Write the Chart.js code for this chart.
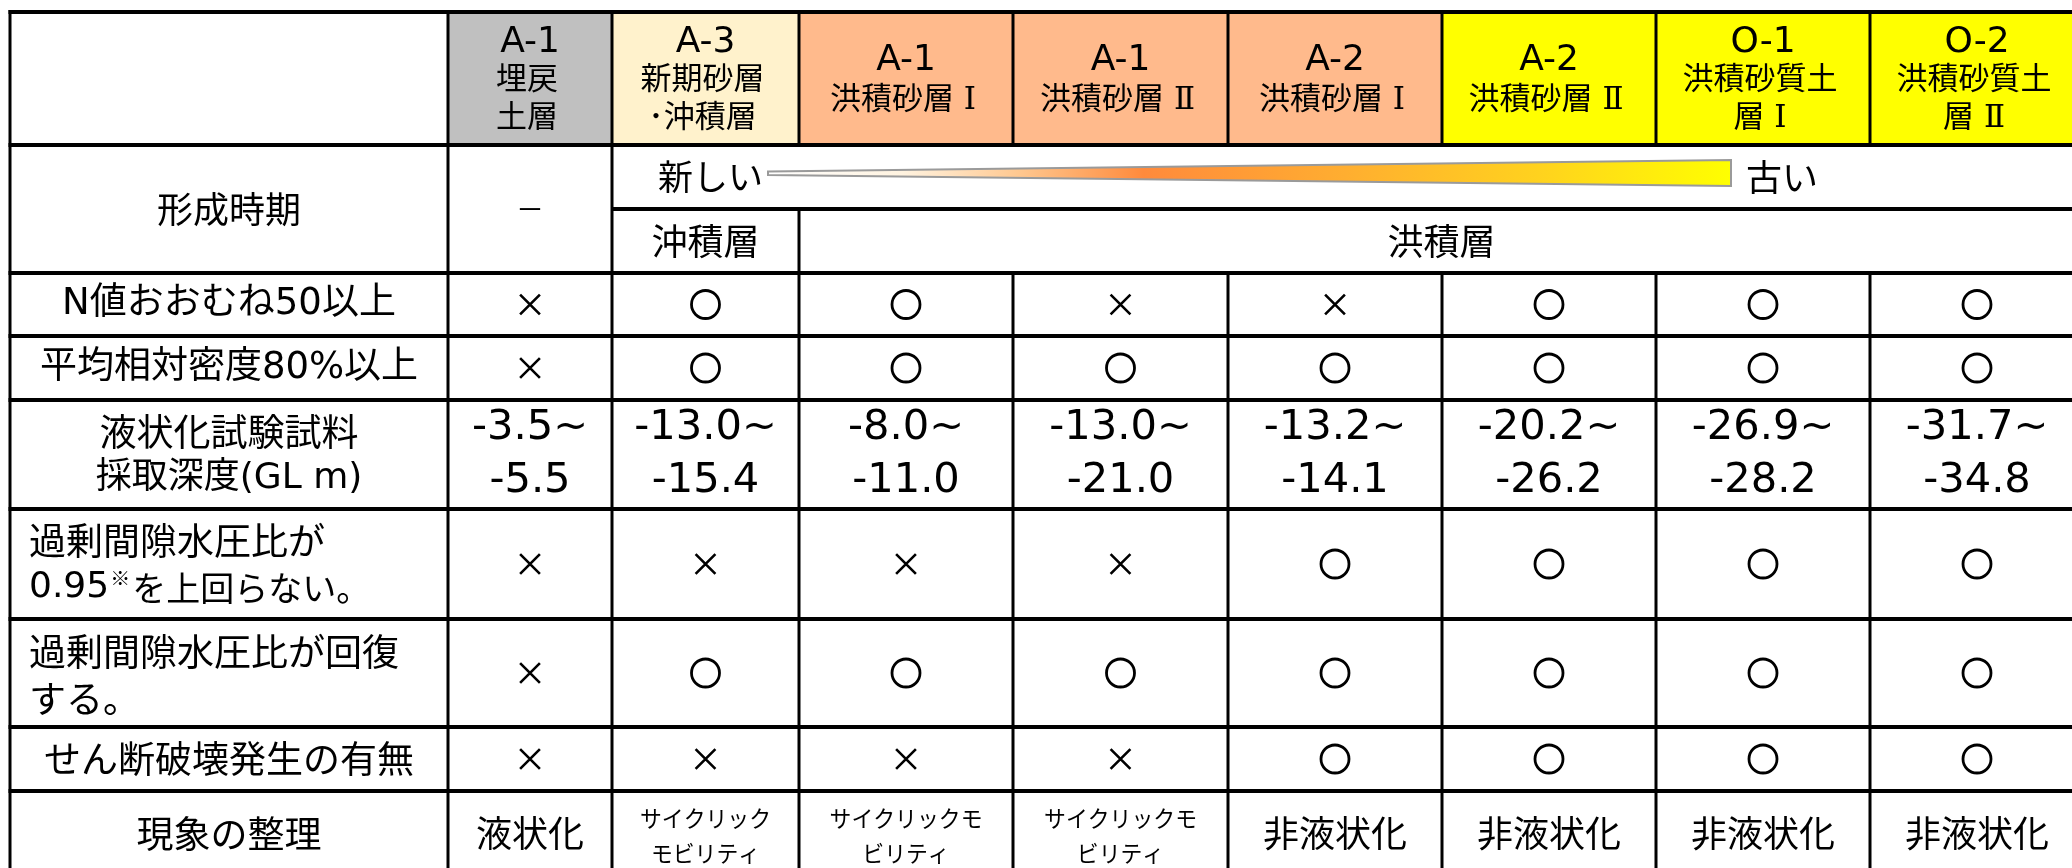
<!DOCTYPE html>
<html><head><meta charset="utf-8">
<script src="https://cdn.jsdelivr.net/npm/chart.js@4.4.1/dist/chart.umd.min.js"></script>
<style>html,body{margin:0;padding:0;background:#fff;overflow:hidden}canvas{display:block}</style>
</head><body>
<canvas id="c" width="2072" height="868"></canvas>
<script>
// ---- data ----
const layerCodes = ['A-1','A-3','A-1','A-1','A-2','A-2','O-1','O-2'];
const layerNames = [['埋戻','土層'],['新期砂層','･沖積層'],['洪積砂層Ⅰ'],['洪積砂層Ⅱ'],['洪積砂層Ⅰ'],['洪積砂層Ⅱ'],['洪積砂質土','層Ⅰ'],['洪積砂質土','層Ⅱ']];
const rowLabels = [['形成時期'],['N値おおむね50以上'],['平均相対密度80%以上'],['液状化試験試料','採取深度(GL m)'],['過剰間隙水圧比が','0.95','※','を上回らない。'],['過剰間隙水圧比が回復','する。'],['せん断破壊発生の有無'],['現象の整理']];
const eraNone = '－';
const eraNew = '新しい';
const eraOld = '古い';
const eraGroups = ['沖積層','洪積層'];
// 1 = ○, 0 = ×
const nValue50 = [0,1,1,0,0,1,1,1];
const density80 = [0,1,1,1,1,1,1,1];
const depthTop = [-3.5,-13.0,-8.0,-13.0,-13.2,-20.2,-26.9,-31.7];
const depthBottom = [-5.5,-15.4,-11.0,-21.0,-14.1,-26.2,-28.2,-34.8];
const poreBelow095 = [0,0,0,0,1,1,1,1];
const poreRecovery = [0,1,1,1,1,1,1,1];
const shearFailure = [0,0,0,0,1,1,1,1];
const phenomenon = [['液状化'],['サイクリック','モビリティ'],['サイクリックモ','ビリティ'],['サイクリックモ','ビリティ'],['非液状化'],['非液状化'],['非液状化'],['非液状化']];

// ---- layout (axis units) ----
const colEdges = [10,448,612,799,1013,1228,1442,1656,1870,2084];
const rowEdges = [12,145,209,273,336,400,509,619,727,791,872];
const headerFill = ['#c0c0c0','#fff2cc','#ffba8c','#ffba8c','#ffba8c','#ffff00','#ffff00','#ffff00'];
const JP = "'Noto Sans CJK JP'";
const MIX = "'DejaVu Sans','Noto Sans CJK JP'";
const HDR = "'DejaVu Serif','Noto Sans CJK JP'";

const colCenter = c => (colEdges[c+1] + colEdges[c+2]) / 2;
const rowCenter = r => (rowEdges[r] + rowEdges[r+1]) / 2;

const markRows = [[3,nValue50],[4,density80],[6,poreBelow095],[7,poreRecovery],[8,shearFailure]];
const okPts = [], ngPts = [];
markRows.forEach(([r, arr]) => arr.forEach((v, c) => {
  (v ? okPts : ngPts).push({x: colCenter(c), y: rowCenter(r)});
}));

const tablePlugin = {
  id: 'tableDraw',
  beforeDatasetsDraw(chart) {
    const ctx = chart.ctx, sx = chart.scales.x, sy = chart.scales.y;
    const X = v => sx.getPixelForValue(v), Y = v => sy.getPixelForValue(v);
    ctx.save();
    headerFill.forEach((f, c) => {
      ctx.fillStyle = f;
      ctx.fillRect(X(colEdges[c+1]), Y(rowEdges[0]), X(colEdges[c+2]) - X(colEdges[c+1]), Y(rowEdges[1]) - Y(rowEdges[0]));
    });
    // gradient wedge
    const gx0 = X(768), gx1 = X(1731);
    const g = ctx.createLinearGradient(gx0, 0, gx1, 0);
    g.addColorStop(0, '#ffffff');
    g.addColorStop(0.14, '#fff3e0');
    g.addColorStop(0.26, '#ffc890');
    g.addColorStop(0.39, '#ff8a3c');
    g.addColorStop(0.6, '#ffae30');
    g.addColorStop(0.8, '#ffd21e');
    g.addColorStop(1, '#ffff00');
    ctx.beginPath();
    ctx.moveTo(gx0, Y(171.5)); ctx.lineTo(gx1, Y(160)); ctx.lineTo(gx1, Y(186)); ctx.lineTo(gx0, Y(175)); ctx.closePath();
    ctx.fillStyle = g; ctx.fill();
    ctx.strokeStyle = '#9a9a9a'; ctx.lineWidth = 2; ctx.stroke();

    const text = (s, x, y, font, align, stretch) => {
      ctx.save();
      ctx.font = font; ctx.textAlign = align || 'center'; ctx.textBaseline = 'middle';
      ctx.fillStyle = '#000';
      ctx.translate(X(x), Y(y)); ctx.scale(stretch || 1, 1);
      ctx.fillText(s, 0, 0);
      const w = ctx.measureText(s).width * (stretch || 1);
      ctx.restore();
      return w;
    };
    // header
    layerCodes.forEach((code, c) => {
      const lines = [code].concat(layerNames[c]);
      const ys = lines.length === 3 ? [43, 81, 119] : [61, 101];
      lines.forEach((s, i) => {
        if (i === 0) text(s, colCenter(c), ys[i], "36px " + MIX);
        else text(s.replace(/([ⅠⅡ])/, ' $1'), colCenter(c) - 3, ys[i], "31px " + HDR);
      });
    });
    // row labels
    const labelX = (colEdges[0] + colEdges[1]) / 2;
    const LF = "37px ";
    text(rowLabels[0][0], labelX, rowCenter(1) + 32, "36px " + JP);
    text(rowLabels[1][0], labelX, rowCenter(3), LF + MIX);
    text(rowLabels[2][0], labelX, rowCenter(4), LF + MIX);
    text(rowLabels[3][0], labelX, rowCenter(5) - 23, LF + JP);
    text(rowLabels[3][1], labelX, rowCenter(5) + 24, "36px " + MIX);
    text(rowLabels[4][0], 29, rowCenter(6) - 23, LF + JP, 'left');
    let w = text(rowLabels[4][1], 29, rowCenter(6) + 24, "36px " + MIX, 'left');
    let w2 = text(rowLabels[4][2], 29 + w + 1, rowCenter(6) + 14, "20px " + JP, 'left');
    text(rowLabels[4][3], 29 + w + w2 + 3, rowCenter(6) + 24, "34px " + JP, 'left');
    text(rowLabels[5][0], 29, rowCenter(7) - 21, LF + JP, 'left');
    text(rowLabels[5][1], 29, rowCenter(7) + 26, LF + JP, 'left');
    text(rowLabels[6][0], labelX, rowCenter(8), LF + JP);
    text(rowLabels[7][0], labelX, rowCenter(9) + 2, LF + JP);
    // formation era
    text(eraNone, colCenter(0), rowEdges[2], "28px " + JP);
    text(eraNew, 658, rowCenter(1), "35px " + JP, 'left');
    text(eraOld, 1746, rowCenter(1), "36px " + JP, 'left');
    text(eraGroups[0], colCenter(1), rowCenter(2), "36px " + JP);
    text(eraGroups[1], (colEdges[3] + colEdges[9]) / 2, rowCenter(2), "36px " + JP);
    // depths
    depthTop.forEach((v, c) => {
      text(v.toFixed(1) + '~', colCenter(c), rowCenter(5) - 26, "40px " + MIX, 'center', 1.04);
      text(depthBottom[c].toFixed(1), colCenter(c), rowCenter(5) + 27, "40px " + MIX, 'center', 1.04);
    });
    // phenomenon
    phenomenon.forEach((lines, c) => {
      if (lines.length === 1) text(lines[0], colCenter(c), rowCenter(9) + 2, "36px " + JP);
      else { text(lines[0], colCenter(c), rowCenter(9) - 13, "23px " + JP, 'center', 0.95); text(lines[1], colCenter(c), rowCenter(9) + 22, "23px " + JP, 'center', 0.95); }
    });

    // grid lines
    ctx.strokeStyle = '#000';
    ctx.lineCap = 'butt';
    const hline = (y, x0, x1) => { ctx.lineWidth = 4; ctx.beginPath(); ctx.moveTo(X(x0), Y(y)); ctx.lineTo(X(x1), Y(y)); ctx.stroke(); };
    const vline = (x, y0, y1) => { ctx.lineWidth = 3; ctx.beginPath(); ctx.moveTo(X(x), Y(y0)); ctx.lineTo(X(x), Y(y1)); ctx.stroke(); };
    rowEdges.forEach((y, i) => { if (i === 2) hline(y, colEdges[2], colEdges[9]); else hline(y, colEdges[0] - 1.5, colEdges[9]); });
    colEdges.forEach((x, i) => {
      const top = rowEdges[0] - 2, bot = rowEdges[10];
      if (i <= 2) vline(x, top, bot);
      else if (i === 3) { vline(x, top, rowEdges[1]); vline(x, rowEdges[2], bot); }
      else { vline(x, top, rowEdges[1]); vline(x, rowEdges[3], bot); }
    });
    ctx.restore();
  }
};

new Chart(document.getElementById('c'), {
  type: 'scatter',
  data: { datasets: [
    { label: '○', data: okPts, pointStyle: 'circle', pointRadius: 14, pointBorderWidth: 2.8, borderColor: '#000', backgroundColor: 'rgba(0,0,0,0)' },
    { label: '×', data: ngPts, pointStyle: 'crossRot', pointRadius: 14, pointBorderWidth: 2.6, borderColor: '#000', backgroundColor: '#000' }
  ]},
  options: {
    responsive: false, animation: false, devicePixelRatio: 1,
    layout: { padding: 0, autoPadding: false },
    plugins: { legend: { display: false }, tooltip: { enabled: false } },
    scales: {
      x: { type: 'linear', min: 0, max: 2072, display: false },
      y: { type: 'linear', min: 0, max: 868, reverse: true, display: false }
    }
  },
  plugins: [tablePlugin]
});
</script>
</body></html>
